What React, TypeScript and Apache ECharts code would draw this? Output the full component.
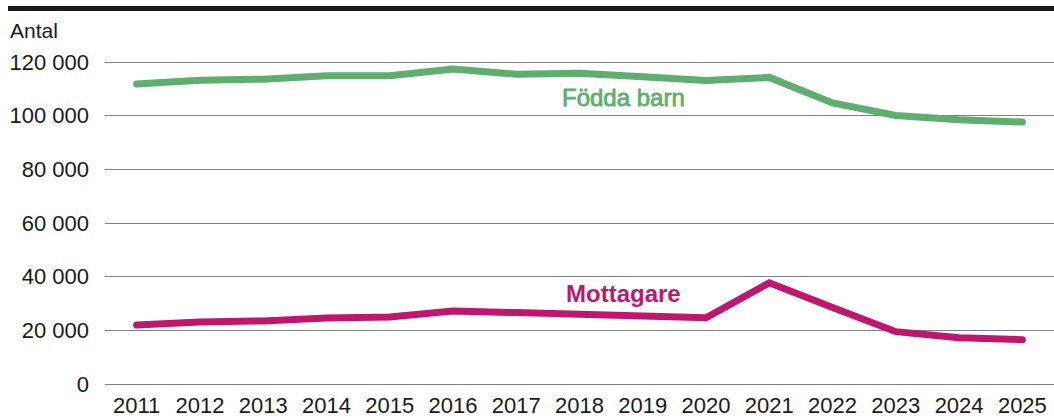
import React, { useEffect, useRef } from "react";
import * as echarts from "echarts";

const years = ["2011","2012","2013","2014","2015","2016","2017","2018","2019","2020","2021","2022","2023","2024","2025"];
const foddaBarn = [111770, 113177, 113593, 114907, 114870, 117425, 115416, 115832, 114523, 113077, 114263, 104734, 100051, 98500, 97600];
const mottagare = [22000, 23100, 23500, 24600, 25000, 27200, 26600, 26000, 25300, 24700, 37700, 28500, 19500, 17200, 16500];
const yTicks = { min: 0, max: 120000, interval: 20000 };

const GREEN = "#5dae6f";
const MAGENTA = "#c0166d";
const FONT = "'Liberation Sans', Arial, Helvetica, sans-serif";

const fmt = (v: number) => {
  const s = String(Math.round(v));
  return s.replace(/\B(?=(\d{3})+(?!\d))/g, " ");
};

export default function App() {
  const ref = useRef<HTMLDivElement>(null);
  useEffect(() => {
    if (!ref.current) return;
    const chart = echarts.init(ref.current, null, { renderer: "svg" });
    chart.setOption({
      animation: false,
      textStyle: { fontFamily: FONT },
      grid: { left: 105, top: 62, width: 954, height: 322, containLabel: false },
      xAxis: {
        type: "category",
        data: years,
        boundaryGap: true,
        axisLine: { show: false },
        axisTick: { show: false },
        axisLabel: { color: "#1a1a1a", fontSize: 22, fontFamily: FONT, margin: 10, interval: 0 },
        splitLine: { show: false },
      },
      yAxis: {
        type: "value",
        min: yTicks.min,
        max: yTicks.max,
        interval: yTicks.interval,
        axisLine: { show: false },
        axisTick: { show: false },
        axisLabel: { color: "#1a1a1a", fontSize: 22, fontFamily: FONT, margin: 16, formatter: fmt },
        splitLine: { show: true, lineStyle: { color: "#808080", width: 1 } },
      },
      graphic: [
        { type: "rect", shape: { x: 8, y: 6, width: 1046, height: 5 }, style: { fill: "#1a1a1a" } },
        { type: "text", x: 10, y: 20, style: { text: "Antal", fontSize: 21, fontFamily: FONT, fill: "#1a1a1a" } },
        { type: "text", x: 562, y: 85, style: { text: "Födda barn", fontSize: 24, fontFamily: FONT, fill: GREEN, stroke: GREEN, lineWidth: 0.8 } },
        { type: "text", x: 566, y: 281, style: { text: "Mottagare", fontSize: 24, fontFamily: FONT, fontWeight: "bold", fill: MAGENTA } },
      ],
      series: [
        {
          type: "line",
          data: foddaBarn,
          symbol: "none",
          lineStyle: { color: GREEN, width: 7, cap: "round", join: "miter" },
          z: 3,
        },
        {
          type: "line",
          data: mottagare,
          symbol: "none",
          lineStyle: { color: MAGENTA, width: 7, cap: "round", join: "miter" },
          z: 3,
        },
      ],
    });
    return () => chart.dispose();
  }, []);
  return (
    <div
      ref={ref}
      style={{ position: "fixed", left: 0, top: 0, width: 1054, height: 418, background: "#fff" }}
    />
  );
}
